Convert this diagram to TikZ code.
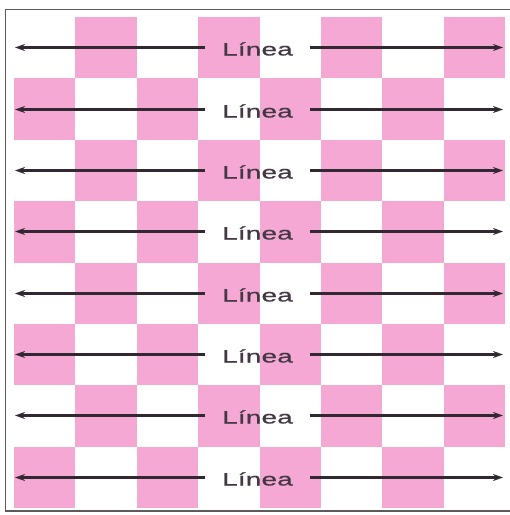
\documentclass[tikz,border=0pt]{standalone}
\usepackage{fontspec}
\newfontfamily\lineafont[FakeStretch=1.55,LetterSpace=1,FakeBold=0.6]{Liberation Sans}
\usetikzlibrary{arrows.meta}
\definecolor{boardpink}{RGB}{246,168,212}
\definecolor{arrowink}{RGB}{50,40,50}
\definecolor{textink}{RGB}{68,56,68}
\definecolor{frameink}{RGB}{95,90,92}
\tikzset{
  lbl/.style={inner sep=0pt, minimum width=105pt, text height=16pt, text depth=0pt,
              font=\lineafont\fontsize{18}{18}\selectfont, text=textink},
  arr/.style={draw=arrowink, line width=3pt, -{Stealth[length=10pt,width=7pt]}},
  frame/.style={draw=frameink, line width=1.5pt}
}
\begin{document}
\begin{tikzpicture}[x=1pt,y=-1pt]
\useasboundingbox (0,0) rectangle (510,515);
\fill[white] (0,0) rectangle (510,515);
\foreach \r in {0,...,7}{
  \foreach \c in {0,...,7}{
    \pgfmathtruncatemacro\p{mod(\r+\c,2)}
    \ifnum\p=1
      \fill[boardpink] (14+\c*61.375, 17+\r*61.375) rectangle +(61.375,61.375);
    \fi
  }
}
\draw[frame] (515,9.5) -- (5.5,9.5) -- (5.5,511) -- (515,511);
\foreach \yy [count=\r] in {47.5,109.5,170.5,231.5,293.5,354.5,415.5,477.5}{
  \node[lbl] (L\r) at (257.5, \yy) {Línea};
  \coordinate (A\r) at (15, \yy);
  \coordinate (B\r) at (503, \yy);
  \draw[arr] (L\r) -- (A\r);
  \draw[arr] (L\r) -- (B\r);
}
\end{tikzpicture}
\end{document}
